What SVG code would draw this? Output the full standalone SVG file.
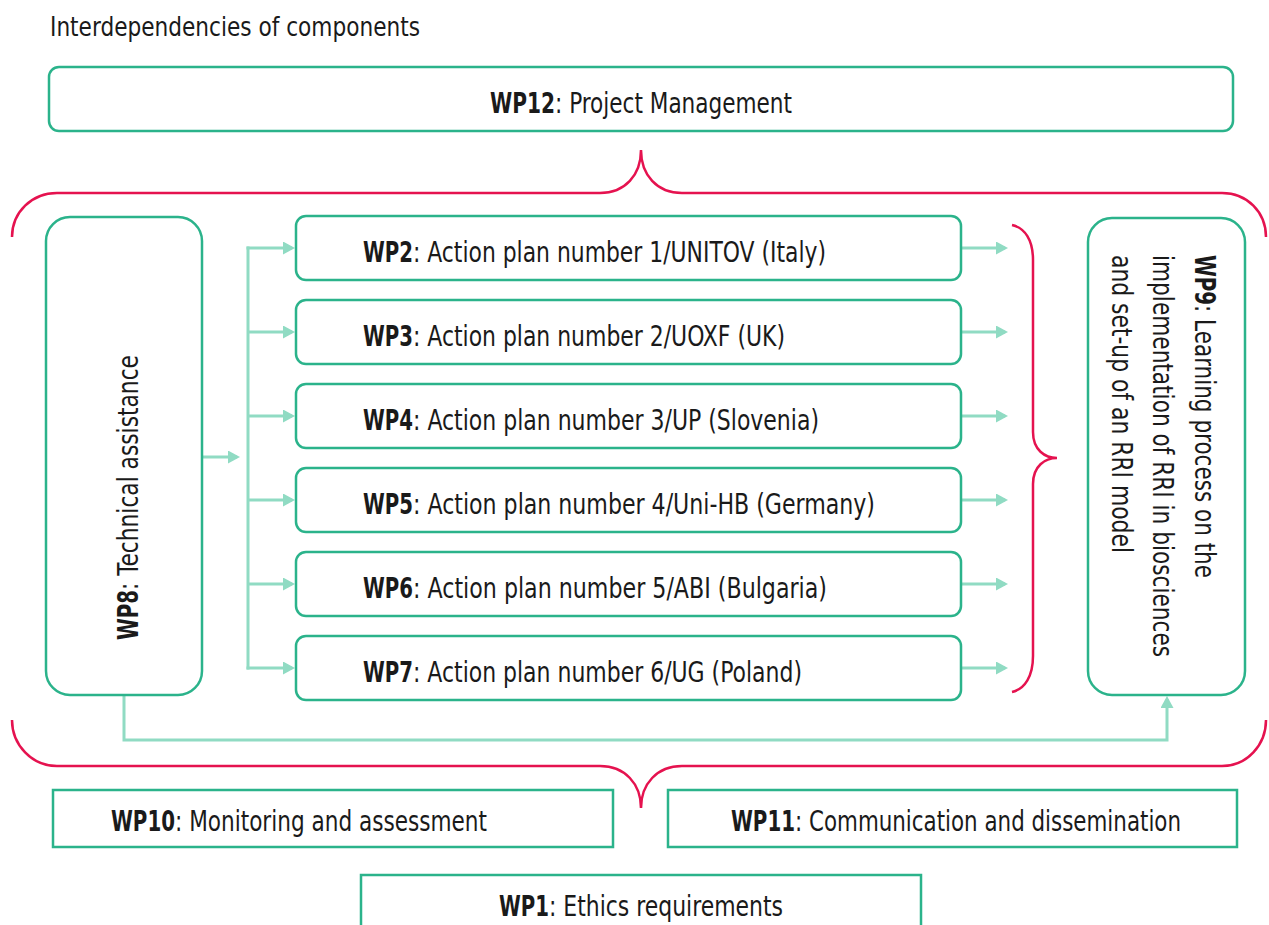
<svg xmlns="http://www.w3.org/2000/svg" width="1269" height="925" viewBox="0 0 1269 925">
<style>
.box{fill:#fff;stroke:#2bb38b;stroke-width:2.5}
.con{fill:none;stroke:#90dbc3;stroke-width:3}
.brace{fill:none;stroke:#e5124f;stroke-width:2.5}
text{font-family:"DejaVu Sans Condensed","DejaVu Sans",sans-serif;font-stretch:condensed;fill:#1a1a1a;font-size:19px}
.b{font-weight:bold}
.title{font-size:26px}
.big{font-size:29px}
</style>
<defs>
<marker id="ah" markerUnits="userSpaceOnUse" markerWidth="12" markerHeight="13" refX="9" refY="6.5" orient="auto">
<path d="M0,0 L12,6.5 L0,13 Z" fill="#90dbc3"/>
</marker>
</defs>
<rect width="1269" height="925" fill="#fff"/>
<text class="title" x="50" y="36" textLength="370" lengthAdjust="spacingAndGlyphs">Interdependencies of components</text>

<g id="braces">
<path class="brace" d="M12,237 C12,212 32,193 57,193 H600 C625,193 641,175 641,150 C641,175 657,193 682,193 H1222 C1247,193 1266,212 1266,237"/>
<path class="brace" d="M12,720 C12,745 32,766 57,766 H600 C625,766 641,784 641,808 C641,784 657,766 682,766 H1222 C1247,766 1266,745 1266,720"/>
<path class="brace" d="M1012,225 C1025,228 1033,240 1033,260 V432 C1033,450 1045,458 1057,458 C1045,458 1033,466 1033,484 V656 C1033,676 1025,689 1012,692"/>
</g>

<g id="connectors">
<line class="con" x1="203" y1="457" x2="237" y2="457" marker-end="url(#ah)"/>
<line class="con" x1="248" y1="246.5" x2="248" y2="669.5"/>
<line class="con" x1="246.5" y1="248" x2="292" y2="248" marker-end="url(#ah)"/>
<line class="con" x1="248" y1="332" x2="292" y2="332" marker-end="url(#ah)"/>
<line class="con" x1="248" y1="416" x2="292" y2="416" marker-end="url(#ah)"/>
<line class="con" x1="248" y1="500" x2="292" y2="500" marker-end="url(#ah)"/>
<line class="con" x1="248" y1="584" x2="292" y2="584" marker-end="url(#ah)"/>
<line class="con" x1="246.5" y1="668" x2="292" y2="668" marker-end="url(#ah)"/>
<line class="con" x1="961" y1="248" x2="1005" y2="248" marker-end="url(#ah)"/>
<line class="con" x1="961" y1="332" x2="1005" y2="332" marker-end="url(#ah)"/>
<line class="con" x1="961" y1="416" x2="1005" y2="416" marker-end="url(#ah)"/>
<line class="con" x1="961" y1="500" x2="1005" y2="500" marker-end="url(#ah)"/>
<line class="con" x1="961" y1="584" x2="1005" y2="584" marker-end="url(#ah)"/>
<line class="con" x1="961" y1="668" x2="1005" y2="668" marker-end="url(#ah)"/>
<path class="con" d="M124,695 V740 H1167 V699" marker-end="url(#ah)"/>
</g>

<g id="wp12">
<rect class="box" x="49" y="67" width="1184" height="64" rx="10"/>
<text transform="translate(0,113) scale(1,1.526)" y="0"><tspan class="b" x="490" textLength="65" lengthAdjust="spacingAndGlyphs">WP12</tspan><tspan x="555" textLength="237" lengthAdjust="spacingAndGlyphs">: Project Management</tspan></text>
</g>

<g id="wp8">
<rect class="box" x="46" y="217" width="156" height="478" rx="24"/>
<text transform="translate(138,640) rotate(-90) scale(1,1.526)" y="0"><tspan class="b" x="0" textLength="50" lengthAdjust="spacingAndGlyphs">WP8</tspan><tspan x="50" textLength="235" lengthAdjust="spacingAndGlyphs">: Technical assistance</tspan></text>
</g>

<g id="wp2">
<rect class="box" x="296" y="216" width="665" height="64" rx="10"/>
<text transform="translate(0,262) scale(1,1.526)" y="0"><tspan class="b" x="363" textLength="50" lengthAdjust="spacingAndGlyphs">WP2</tspan><tspan x="413" textLength="413" lengthAdjust="spacingAndGlyphs">: Action plan number 1/UNITOV (Italy)</tspan></text>
</g>
<g id="wp3">
<rect class="box" x="296" y="300" width="665" height="64" rx="10"/>
<text transform="translate(0,346) scale(1,1.526)" y="0"><tspan class="b" x="363" textLength="50" lengthAdjust="spacingAndGlyphs">WP3</tspan><tspan x="413" textLength="372" lengthAdjust="spacingAndGlyphs">: Action plan number 2/UOXF (UK)</tspan></text>
</g>
<g id="wp4">
<rect class="box" x="296" y="384" width="665" height="64" rx="10"/>
<text transform="translate(0,430) scale(1,1.526)" y="0"><tspan class="b" x="363" textLength="50" lengthAdjust="spacingAndGlyphs">WP4</tspan><tspan x="413" textLength="406" lengthAdjust="spacingAndGlyphs">: Action plan number 3/UP (Slovenia)</tspan></text>
</g>
<g id="wp5">
<rect class="box" x="296" y="468" width="665" height="64" rx="10"/>
<text transform="translate(0,514) scale(1,1.526)" y="0"><tspan class="b" x="363" textLength="50" lengthAdjust="spacingAndGlyphs">WP5</tspan><tspan x="413" textLength="462" lengthAdjust="spacingAndGlyphs">: Action plan number 4/Uni-HB (Germany)</tspan></text>
</g>
<g id="wp6">
<rect class="box" x="296" y="552" width="665" height="64" rx="10"/>
<text transform="translate(0,598) scale(1,1.526)" y="0"><tspan class="b" x="363" textLength="50" lengthAdjust="spacingAndGlyphs">WP6</tspan><tspan x="413" textLength="414" lengthAdjust="spacingAndGlyphs">: Action plan number 5/ABI (Bulgaria)</tspan></text>
</g>
<g id="wp7">
<rect class="box" x="296" y="636" width="665" height="64" rx="10"/>
<text transform="translate(0,682) scale(1,1.526)" y="0"><tspan class="b" x="363" textLength="50" lengthAdjust="spacingAndGlyphs">WP7</tspan><tspan x="413" textLength="389" lengthAdjust="spacingAndGlyphs">: Action plan number 6/UG (Poland)</tspan></text>
</g>

<g id="wp9">
<rect class="box" x="1088" y="218" width="157" height="477" rx="24"/>
<text transform="translate(1195,255) rotate(90) scale(1,1.526)" y="0"><tspan class="b" x="0" textLength="50" lengthAdjust="spacingAndGlyphs">WP9</tspan><tspan x="50" textLength="273" lengthAdjust="spacingAndGlyphs">: Learning process on the</tspan></text>
<text class="big" transform="translate(1153,255) rotate(90)" x="0" y="0" textLength="402" lengthAdjust="spacingAndGlyphs">implementation of RRI in biosciences</text>
<text class="big" transform="translate(1112,255) rotate(90)" x="0" y="0" textLength="298" lengthAdjust="spacingAndGlyphs">and set-up of an RRI model</text>
</g>

<g id="wp10">
<rect class="box" x="53" y="790" width="560" height="57"/>
<text transform="translate(0,831) scale(1,1.526)" y="0"><tspan class="b" x="111" textLength="64" lengthAdjust="spacingAndGlyphs">WP10</tspan><tspan x="175" textLength="312" lengthAdjust="spacingAndGlyphs">: Monitoring and assessment</tspan></text>
</g>
<g id="wp11">
<rect class="box" x="668" y="790" width="569" height="57"/>
<text transform="translate(0,831) scale(1,1.526)" y="0"><tspan class="b" x="731" textLength="64" lengthAdjust="spacingAndGlyphs">WP11</tspan><tspan x="795" textLength="386" lengthAdjust="spacingAndGlyphs">: Communication and dissemination</tspan></text>
</g>
<g id="wp1">
<rect class="box" x="361" y="875" width="560" height="70"/>
<text transform="translate(0,916) scale(1,1.526)" y="0"><tspan class="b" x="499" textLength="50" lengthAdjust="spacingAndGlyphs">WP1</tspan><tspan x="549" textLength="234" lengthAdjust="spacingAndGlyphs">: Ethics requirements</tspan></text>
</g>
</svg>
